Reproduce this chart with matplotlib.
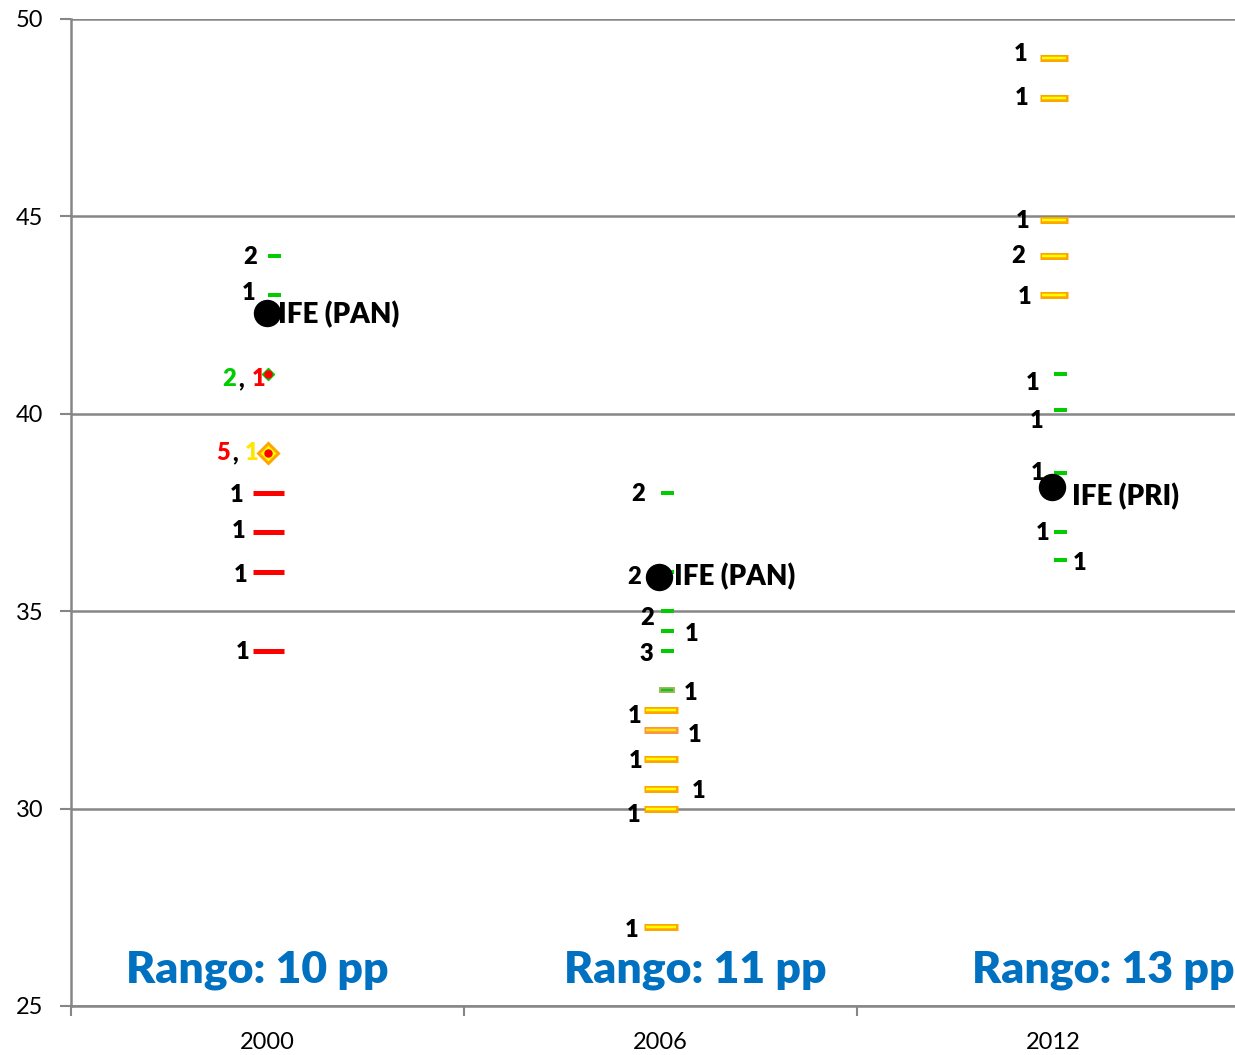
import matplotlib.pyplot as plt

# categories on the x axis
years = ["2000", "2006", "2012"]

# each point: year index, value, series kind, count label
yr_idx = [0, 0, 0, 0, 0, 0,
          1, 1, 1, 1, 1, 1, 1, 1, 1, 1, 1, 1,
          2, 2, 2, 2, 2, 2, 2, 2, 2, 2]
values = [44, 43, 38, 37, 36, 34,
          38, 36, 35, 34.5, 34, 33, 32.5, 32, 31.25, 30.5, 30, 27,
          49, 48, 44.9, 44, 43, 41, 40.1, 38.5, 37, 36.3]
kinds = ["green", "green", "red", "red", "red", "red",
         "green", "green", "green", "green", "green", "lgreen", "yellow", "orange", "yellow", "yellow", "yellow", "yellow",
         "yellow", "yellow", "yellow", "yellow", "yellow", "green", "green", "green", "green", "green"]
counts = ["2", "1", "1", "1", "1", "1",
          "2", "2", "2", "1", "3", "1", "1", "1", "1", "1", "1", "1",
          "1", "1", "1", "2", "1", "1", "1", "1", "1", "1"]

# IFE reference points
ife_idx = [0, 1, 2]
ife_val = [42.55, 35.87, 38.15]
ife_lab = ["IFE (PAN)", "IFE (PAN)", "IFE (PRI)"]

# overlapping points in 2000 drawn as diamonds
dia_val = [41, 39]
dia_parts = [[("2", "#00CC00"), (",", "black"), ("1", "#FF0000")],
             [("5", "#FF0000"), (",", "black"), ("1", "#FFE600")]]

ranges = ["Rango: 10 pp", "Rango: 11 pp", "Rango: 13 pp"]

# label offsets in pixels (dx, dy) relative to category centre / value
lab_off = [(-17, -1), (-19, 2), (-31, -2), (-29, 1), (-27, -3), (-25, -1),
           (-22, -1), (-26, -5), (-13, -7), (31, -3), (-14, -3), (30, -3), (-26, -6), (34, -5), (-25, -2), (38, -2), (-27, -6), (-29, -3),
           (-33, 4), (-32, 0), (-31, -1), (-35, 0), (-29, -2), (-21, -9), (-17, -11), (-16, 0), (-11, -1), (26, -3)]
ife_off = [(11, -1), (13, 0), (18, -10)]
ife_dx = [-1, -2, -2]

FONT = "Lato"
plt.rcParams["font.family"] = [FONT, "DejaVu Sans"]

fig = plt.figure(figsize=(12.35, 10.55), dpi=100)
ax = fig.add_axes([71 / 1235, 49 / 1055, 1179 / 1235, 987 / 1055])

px = 0.72  # points per pixel at dpi 100
cat_px = 393.0

for i, v, k in zip(yr_idx, values, kinds):
    if k == "green":
        ax.plot(i + 6 / cat_px, v, marker="_", ms=13 * px, mew=4 * px, color="#00CC00", zorder=3)
    elif k == "red":
        ax.plot(i, v, marker="_", ms=31 * px, mew=5 * px, color="#FF0000", zorder=3)
    elif k == "lgreen":
        ax.plot(i + 6 / cat_px, v, marker="_", ms=16 * px, mew=6 * px, color="#9BBB59", zorder=3)
        ax.plot(i + 6 / cat_px, v, marker="_", ms=12 * px, mew=2.5 * px, color="#22BB22", zorder=3)
    else:
        edge = "#F79646" if k == "orange" else "#FFA500"
        fill = "#FFE600" if k == "orange" else "#FFFF00"
        w = 28 if i == 2 else 34
        ax.plot(i, v, marker="_", ms=w * px, mew=7 * px, color=edge, zorder=3)
        ax.plot(i, v, marker="_", ms=(w - 4) * px, mew=2.5 * px, color=fill, zorder=3)

for (i, v, c), (dx, dy) in zip(zip(yr_idx, values, counts), lab_off):
    ax.annotate(c, (i, v), xytext=(dx, dy), textcoords="offset pixels",
                ha="center", va="center", fontsize=17, fontweight="heavy", zorder=5)

# diamonds in 2000
ax.plot(0, dia_val[0], marker="D", ms=9 * px, color="#00CC00", mec="#00CC00", zorder=4)
ax.plot(0, dia_val[0], marker="o", ms=7 * px, color="#FF0000", zorder=4)
ax.plot(0, dia_val[1], marker="D", ms=14 * px, color="#FFFF00", mec="#FFA500", mew=3 * px, zorder=4)
ax.plot(0, dia_val[1], marker="o", ms=7 * px, color="#FF0000", zorder=4)
dia_xs = [[-38, -26, -9], [-44, -32, -16]]
for v, parts, xs, dy in zip(dia_val, dia_parts, dia_xs, [-5, 0]):
    for (t, col), dx in zip(parts, xs):
        ax.annotate(t, (0, v), xytext=(dx, dy), textcoords="offset pixels",
                    ha="center", va="center", fontsize=17, fontweight="heavy", color=col, zorder=5)

for i, v, lab, (dx, dy), cdx in zip(ife_idx, ife_val, ife_lab, ife_off, ife_dx):
    ax.plot(i + cdx / cat_px, v, "o", ms=26 * px, color="black", zorder=4)
    ax.annotate(lab, (i, v), xytext=(dx, dy), textcoords="offset pixels",
                ha="left", va="center", fontsize=20, fontweight="heavy", zorder=5)

for i, t, x in zip(range(3), ranges, [-10, 35, 50]):
    ax.annotate(t, (i, 25.9), xytext=(x, 0), textcoords="offset pixels",
                ha="center", va="center", fontsize=32, fontweight="heavy", color="#0070C0", zorder=5)

ax.set_xlim(-0.5, 2.5)
ax.set_ylim(25, 50)
ax.set_yticks(range(25, 51, 5))
ax.set_xticks(range(3))
ax.set_xticklabels(years)
ax.set_xticks([-0.5, 0.5, 1.5], minor=True)
ax.tick_params(axis="x", which="major", length=0, labelsize=17, pad=19)
ax.tick_params(axis="x", which="minor", length=7, width=1.5, color="#868686")
ax.tick_params(axis="y", length=8, width=1.5, color="#868686", labelsize=17, pad=12)
ax.grid(axis="y", color="#868686", linewidth=1.8)
ax.set_axisbelow(True)
for s in ["top", "right"]:
    ax.spines[s].set_visible(False)
for s in ["left", "bottom"]:
    ax.spines[s].set_color("#868686")
    ax.spines[s].set_linewidth(1.8)

fig.savefig("out.png", dpi=100)
